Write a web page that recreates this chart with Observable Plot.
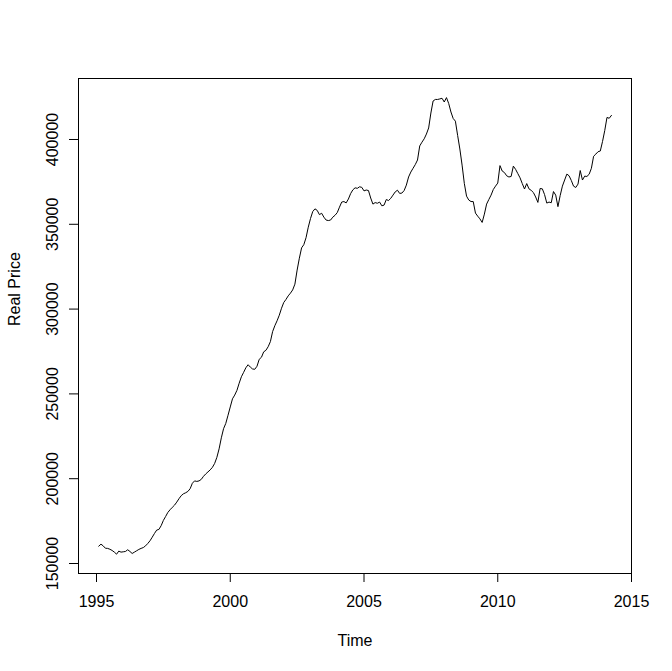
<!DOCTYPE html>
<html><head><meta charset="utf-8">
<script src="https://cdn.jsdelivr.net/npm/d3@7"></script>
<script src="https://cdn.jsdelivr.net/npm/@observablehq/plot@0.6"></script>
<style>html,body{margin:0;padding:0;background:#fff;} #chart svg{display:block}</style>
</head><body><div id="chart"></div>
<script>
// Monthly series, starting February 1995
const startYear = 1995;
const startMonth = 2;
const realPrice = [
160200,161400,160400,159000,158900,158400,157700,156700,155500,157300,156700,156900,
157100,158100,157100,155900,156700,157500,158300,158900,159400,160400,161800,163400,
165500,167700,169700,170100,172300,175400,177700,180100,181700,183100,184400,186200,
188200,190000,191100,191700,192500,194100,197300,198700,198400,198700,199600,201400,
202800,204000,205200,206700,209000,212600,217600,224100,229500,232600,237400,242300,
247100,249300,252100,256300,260100,262700,265400,267200,265800,264700,264500,266300,
270400,271600,274800,275700,277800,280800,286700,290200,293100,296400,300500,303900,
305700,307800,309400,311300,314700,323000,330000,336100,338000,342100,348300,353400,
357500,359100,358200,355700,356500,354200,352500,352200,352500,354200,355300,356900,
360100,363100,363400,362600,364900,368100,370300,371500,371200,372100,371800,369700,
370200,369900,365500,361900,362800,362400,363100,360900,361300,364600,364000,365300,
367200,369100,370100,368200,368400,369900,373100,377900,380800,383000,385200,387900,
396200,398400,400400,403200,406800,415600,422700,423600,423600,423900,424300,422100,
424700,421200,416200,412400,410800,402400,394400,384900,374100,366600,364300,363400,
363400,356600,354800,353200,351100,356000,361900,364600,367200,370500,372500,374300,
384600,381400,380500,378600,377900,378200,384300,382400,379900,377400,374000,370800,
374000,370900,370000,368700,366100,362900,371100,370900,367500,362500,363100,362700,
369300,367200,360400,366900,372500,376100,379600,378600,375800,372500,371700,373700,
381700,376100,378400,378200,379500,383000,390100,391400,392800,393200,398800,405300,
413000,412500,414200
];
const xTicks = [1995, 2000, 2005, 2010, 2015];
const yTicks = [150000, 200000, 250000, 300000, 350000, 400000];
const xTitle = "Time";
const yTitle = "Real Price";

const series = realPrice.map((v, i) => ({t: startYear + (startMonth - 1 + i) / 12, v}));

const chart = Plot.plot({
  width: 672,
  height: 671,
  marginLeft: 78,
  marginRight: 41,
  marginTop: 78,
  marginBottom: 98,
  x: {domain: [1994.327, 2015]},
  y: {domain: [144104, 435958]},
  style: {fontFamily: "'Liberation Sans', Arial, sans-serif", fontSize: "16px", background: "#fff", color: "#000"},
  marks: [
    Plot.line(series, {x: "t", y: "v", stroke: "#000", strokeWidth: 1}),
    Plot.frame({stroke: "#000", strokeWidth: 1}),
    Plot.axisX({ticks: xTicks, tickSize: 9, tickPadding: 13, tickFormat: d => String(d), label: null}),
    Plot.axisY({ticks: yTicks, tickSize: 9, tickPadding: 12, tickRotate: -90, tickFormat: d => String(d), label: null}),
    Plot.text([xTitle], {text: d => d, frameAnchor: "bottom", dy: 72}),
    Plot.text([yTitle], {text: d => d, frameAnchor: "left", dx: -64, rotate: -90})
  ]
});
document.getElementById("chart").appendChild(chart);
</script>
</body></html>
